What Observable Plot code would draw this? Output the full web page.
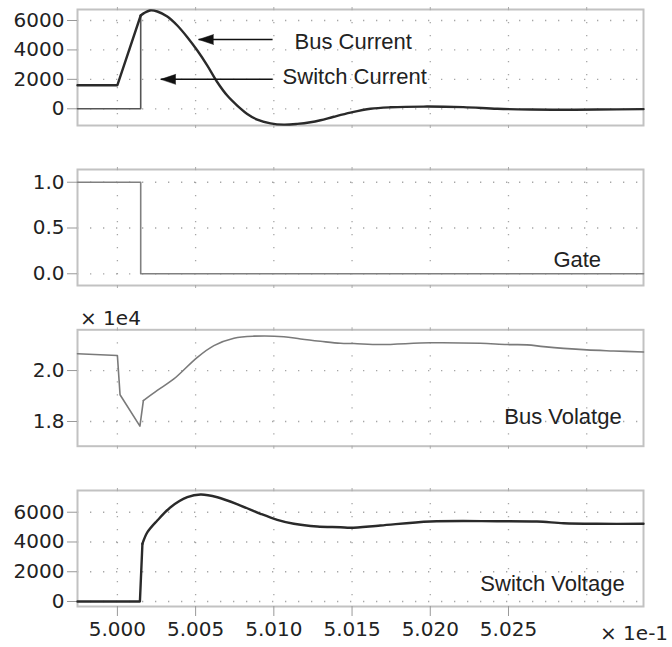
<!DOCTYPE html>
<html>
<head>
<meta charset="utf-8">
<script src="https://cdn.jsdelivr.net/npm/d3@7"></script>
<script src="https://cdn.jsdelivr.net/npm/@observablehq/plot@0.6"></script>
<style>
  html, body { margin: 0; padding: 0; background: #fff; }
  #wrap { position: relative; width: 672px; height: 647px; overflow: hidden; background: #fff; }
  #wrap > div.p { position: absolute; left: 0; top: 0; }
  .note { position: absolute; font-family: "DejaVu Sans", sans-serif; font-size: 20px; color: #222; white-space: nowrap; line-height: 1; }
</style>
</head>
<body>
<div id="wrap"></div>
<script>
// ---- data (time in units of 1e-1 s) ----
const xDomain = [4.99745, 5.03363];
const xTickVals = [5.000, 5.005, 5.010, 5.015, 5.020, 5.025];
const xGridVals = [5.000, 5.005, 5.010, 5.015, 5.020, 5.025, 5.030];
const tOff = 5.00149; // gate turn-off instant

// Panel 1: Bus current (A)
const busCurT = [4.99745, 5.0000, 5.00149, 5.0017, 5.00208, 5.00255, 5.00319, 5.00383, 5.00447, 5.00511, 5.00575, 5.00639, 5.00702, 5.00766, 5.0083, 5.00894, 5.00979, 5.01064, 5.01149, 5.01234, 5.01298, 5.01383, 5.0149, 5.01618, 5.01745, 5.01956, 5.02211, 5.02429, 5.02639, 5.02852, 5.03065, 5.03363];
const busCurA = [1600, 1600, 6340, 6500, 6680, 6612, 6272, 5660, 4864, 3959, 2939, 1803, 898, 218, -347, -735, -987, -1075, -1027, -918, -780, -540, -260, 0, 100, 150, 110, 0, -50, -70, -50, -20];
// Switch current is zero until turn-off, then follows the bus current
const swCurPreT = [4.99745, 5.00149];
const swCurPreA = [0, 0];

// Panel 2: Gate
const gateT = [4.99745, 5.00149, 5.00149, 5.03363];
const gateV = [1, 1, 0, 0];

// Panel 3: Bus voltage (x 1e4 V)
const busVKnot = 5.00166;
const busVT = [4.99745, 5.0000, 5.00017, 5.00144, 5.00166, 5.00255, 5.00361, 5.00511, 5.00617, 5.00745, 5.00872, 5.01064, 5.01171, 5.01298, 5.01426, 5.01511, 5.01681, 5.02001, 5.0232, 5.02491, 5.02618, 5.02724, 5.02852, 5.03001, 5.03171, 5.03363];
const busVV = [2.066, 2.059, 1.905, 1.782, 1.882, 1.922, 1.967, 2.052, 2.098, 2.127, 2.135, 2.133, 2.124, 2.115, 2.107, 2.106, 2.102, 2.109, 2.107, 2.102, 2.101, 2.094, 2.087, 2.081, 2.077, 2.073];

// Panel 4: Switch voltage (V)
const swVKnot = 5.0016;
const swVT = [4.99745, 5.00144, 5.0016, 5.00192, 5.00255, 5.0034, 5.00447, 5.00532, 5.00639, 5.00787, 5.00915, 5.01022, 5.01128, 5.01277, 5.01426, 5.0149, 5.01681, 5.02001, 5.02427, 5.02682, 5.02852, 5.03065, 5.03363];
const swVV = [0, 0, 3877, 4657, 5443, 6337, 7009, 7190, 7009, 6452, 5894, 5490, 5222, 5040, 4993, 4953, 5107, 5376, 5397, 5376, 5262, 5222, 5222];

// Labels and arrows (data coordinates of each panel)
const curLabels = ["Bus Current", "Switch Current"];
const curLabelX = [5.01132, 5.01056];
const curLabelY = [4551, 2190];
const arrowTailX = [5.00992, 5.00992];
const arrowTipX = [5.00519, 5.00277];
const arrowY = [4707, 2000];

const gateLabel = "Gate", gateLabelX = 5.02787, gateLabelY = 0.156;
const busVLabel = "Bus Volatge", busVLabelX = 5.02473, busVLabelY = 1.8196;
const swVLabel = "Switch Voltage", swVLabelX = 5.0232, swVLabelY = 1210;

const zip = (xs, ys) => xs.map((x, i) => ({x, y: ys[i]}));
const busCur = zip(busCurT, busCurA);
const busCurPre = busCur.filter(d => d.x <= tOff);
const busCurPost = busCur.filter(d => d.x >= tOff);
const swCurPre = zip(swCurPreT, swCurPreA).concat(busCurPost.slice(0, 1));
const gate = zip(gateT, gateV);
const busV = zip(busVT, busVV);
const busVPre = busV.filter(d => d.x <= busVKnot);
const busVPost = busV.filter(d => d.x >= busVKnot);
const swV = zip(swVT, swVV);
const swVPre = swV.filter(d => d.x <= swVKnot);
const swVPost = swV.filter(d => d.x >= swVKnot);

const W = 672, H = 647;
const labelFont = "Liberation Sans, Arial, sans-serif";

function panel({top, bottom, yDomain, yTicks, yFmt, marks, bottomAxis}) {
  const common = [
    Plot.gridX(xGridVals, {stroke: "#888", strokeOpacity: 0.75, strokeWidth: 1.3, strokeDasharray: "1.3,11.7"}),
    Plot.gridY(yTicks, {stroke: "#888", strokeOpacity: 0.75, strokeWidth: 1.3, strokeDasharray: "1.3,11.7"}),
    Plot.frame({stroke: "#c2c2c2", strokeWidth: 2}),
    Plot.axisY(yTicks, {tickSize: 10, tickPadding: 3, tickFormat: yFmt, stroke: "#999", fill: "#222", label: null, fontSize: 20}),
    Plot.axisX(xGridVals, {anchor: "top", tickSize: 3, tickFormat: () => "", stroke: "#aaa", label: null}),
  ];
  if (bottomAxis) {
    common.push(Plot.axisX(xTickVals, {anchor: "bottom", tickSize: 10, tickPadding: 5, tickFormat: d3.format(".3f"), stroke: "#999", fill: "#222", label: null, fontSize: 20}));
  } else {
    common.push(Plot.axisX(xGridVals, {anchor: "bottom", tickSize: 3, tickFormat: () => "", stroke: "#aaa", label: null}));
  }
  return Plot.plot({
    width: W, height: H,
    marginLeft: 77, marginRight: 29,
    marginTop: top, marginBottom: H - bottom,
    x: {domain: xDomain, axis: null},
    y: {domain: yDomain, axis: null},
    style: {background: "transparent", fontFamily: "DejaVu Sans, sans-serif", fontSize: "20px", overflow: "visible"},
    marks: common.concat(marks)
  });
}

const arrows = curLabels.map((l, i) => ({x1: arrowTailX[i], x2: arrowTipX[i], y: arrowY[i]}));
const curText = curLabels.map((l, i) => ({label: l, x: curLabelX[i], y: curLabelY[i]}));
const dark = "#2a2a2a";

const p1 = panel({
  top: 9, bottom: 125, yDomain: [-1136, 6748], yTicks: [0, 2000, 4000, 6000], yFmt: d3.format("d"),
  marks: [
    Plot.line(swCurPre, {x: "x", y: "y", stroke: "#555", strokeWidth: 1.6}),
    Plot.line(busCurPre, {x: "x", y: "y", stroke: dark, strokeWidth: 2.4}),
    Plot.line(busCurPost, {x: "x", y: "y", stroke: dark, strokeWidth: 2.4, curve: "catmull-rom"}),
    Plot.link(arrows, {x1: "x1", x2: "x2", y1: "y", y2: "y", stroke: "#111", strokeWidth: 1.5}),
    Plot.vector(arrows, {x: "x2", y: "y", length: 15, rotate: -90, shape: "spike", r: 5, anchor: "end", fill: "#111", stroke: "#111", strokeWidth: 0.5}),
    Plot.text(curText, {x: "x", y: "y", text: "label", textAnchor: "start", fontSize: 22, fontFamily: labelFont, fill: "#222"})
  ]
});

const p2 = panel({
  top: 169, bottom: 285, yDomain: [-0.128, 1.139], yTicks: [0, 0.5, 1.0], yFmt: d3.format(".1f"),
  marks: [
    Plot.line(gate, {x: "x", y: "y", stroke: "#808080", strokeWidth: 1.6}),
    Plot.text([gateLabel], {x: gateLabelX, y: gateLabelY, text: d => d, textAnchor: "start", fontSize: 22, fontFamily: labelFont, fill: "#222"})
  ]
});

const p3 = panel({
  top: 329.3, bottom: 445.7, yDomain: [1.703, 2.16], yTicks: [1.8, 2.0], yFmt: d3.format(".1f"),
  marks: [
    Plot.line(busVPre, {x: "x", y: "y", stroke: "#7a7a7a", strokeWidth: 1.6}),
    Plot.line(busVPost, {x: "x", y: "y", stroke: "#7a7a7a", strokeWidth: 1.6, curve: "catmull-rom"}),
    Plot.text([busVLabel], {x: busVLabelX, y: busVLabelY, text: d => d, textAnchor: "start", fontSize: 22, fontFamily: labelFont, fill: "#222"})
  ]
});

const p4 = panel({
  top: 490, bottom: 606, yDomain: [-337, 7461], yTicks: [0, 2000, 4000, 6000], yFmt: d3.format("d"), bottomAxis: true,
  marks: [
    Plot.line(swVPre, {x: "x", y: "y", stroke: dark, strokeWidth: 2.4}),
    Plot.line(swVPost, {x: "x", y: "y", stroke: dark, strokeWidth: 2.4, curve: "catmull-rom"}),
    Plot.text([swVLabel], {x: swVLabelX, y: swVLabelY, text: d => d, textAnchor: "start", fontSize: 22, fontFamily: labelFont, fill: "#222"})
  ]
});

const wrap = document.getElementById("wrap");
for (const p of [p1, p2, p3, p4]) {
  const d = document.createElement("div");
  d.className = "p";
  d.appendChild(p);
  wrap.appendChild(d);
}
const n1 = document.createElement("div");
n1.className = "note"; n1.textContent = "× 1e4";
n1.style.left = "80px"; n1.style.top = "308px";
wrap.appendChild(n1);
const n2 = document.createElement("div");
n2.className = "note"; n2.textContent = "× 1e-1";
n2.style.left = "600px"; n2.style.top = "623px";
wrap.appendChild(n2);
</script>
</body>
</html>
